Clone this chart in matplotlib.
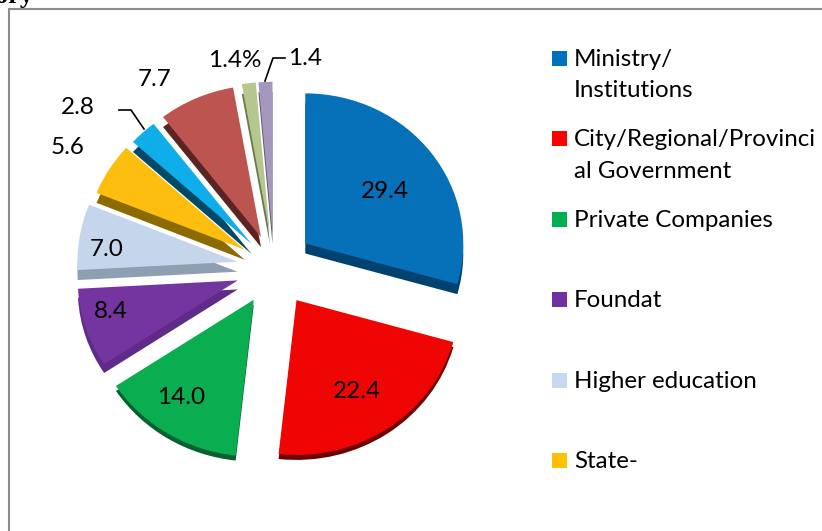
import matplotlib
matplotlib.use('Agg')
import matplotlib.pyplot as plt
from matplotlib.patches import Rectangle

# Pie values in drawing order, clockwise from the top
values = [29.4, 22.4, 14.0, 8.4, 7.0, 5.6, 2.8, 7.7, 1.4, 1.4]
value_labels = ['29.4', '22.4', '14.0', '8.4', '7.0', '5.6', '2.8', '7.7', '1.4%', '1.4']
legend_labels = ['Ministry/\nInstitutions', 'City/Regional/Provinci\nal Government',
                 'Private Companies', 'Foundat', 'Higher education', 'State-']

top_colors = ['#0670B8', '#F00505', '#0AAD50', '#7435A0', '#C5D6EC',
              '#FDBE10', '#0FAEEB', '#BC544F', '#B5C78F', '#A596BC']
side_colors = ['#00426F', '#6E0000', '#066030', '#5F2A88', '#8F9FB2',
               '#8B6A00', '#004A68', '#5A2422', '#6A7A50', '#5F5570']
legend_colors = ['#0070C0', '#FF0000', '#00B050', '#7030A0', '#C6D9F1', '#FFC000']

explode = [48, 42, 33, 35, 34, 32, 33, 32, 32, 35]
depth = [10, 5, 5, 9, 10, 10, 10, 10, 10, 10]
# per slice fine tuning, the original has a perspective the flat pie lacks
nudge = [(-1, 1), (5, -3), (3, 3), (3, 0), (3, -3), (4, -4), (6, -3), (6, -5), (6, -6), (6, -3)]
radii = [158, 163, 165, 160, 160, 160, 160, 160, 160, 160]
label_pos = [(385, 191), (357, 392), (181, 397), (111, 311), (107, 250),
             (68, 148), (78, 108), (155, 79), (235, 61), (305, 59)]

W, H = 822, 531
squash = 0.95


def py(y):
    # picture row to data y
    return (H - y) / squash


plt.rcParams['font.family'] = ['Lato', 'DejaVu Sans']
fig = plt.figure(figsize=(W / 100, H / 100), dpi=100)
ax = fig.add_axes([0, 0, 1, 1])

center = (268, py(270))
radius = 160

# extruded side first, then the top faces
sides, _ = ax.pie(values, colors=side_colors, explode=explode, center=center, radius=radius,
                  startangle=90, counterclock=False)
tops, _ = ax.pie(values, colors=top_colors, explode=explode, center=center, radius=radius,
                 startangle=90, counterclock=False)
for side, top, d, (dx, dy), r in zip(sides, tops, depth, nudge, radii):
    cx, cy = top.center
    top.set_center((cx + dx, cy - dy / squash))
    top.set_radius(r)
    side.set_center((cx + dx, cy - (dy + d) / squash))
    side.set_radius(r)

ax.set_aspect('auto')
ax.set_xlim(0, W)
ax.set_ylim(0, H / squash)
ax.axis('off')

# chart frame, runs off the right and bottom
ax.plot([9, 9], [py(H + 5), py(9)], color='#8C8C8C', lw=1.5)
ax.plot([9, W + 5], [py(9), py(9)], color='#8C8C8C', lw=1.5)

# clipped caption from the page above the chart
ax.text(33, py(3), 'ory', family='Liberation Serif', weight='bold', fontsize=19,
        ha='right', va='baseline', color='black')

for text, (x, y) in zip(value_labels, label_pos):
    ax.text(x, py(y), text, fontsize=17.5, ha='center', va='center', color='black')

# leader lines
ax.plot([119, 131, 144], [py(110), py(110), py(129)], color='black', lw=1.2)
ax.plot([285, 273, 265], [py(58), py(58), py(81)], color='black', lw=1.2)

# legend
for i, (text, col) in enumerate(zip(legend_labels, legend_colors)):
    y = 58 + i * 80.4
    ax.add_patch(Rectangle((552, py(y + 8)), 15, 15 / squash, color=col, lw=0))
    ax.text(574, py(y - 9), text, fontsize=17.4, ha='left', va='top', color='black',
            linespacing=1.6)

fig.savefig('out.png', dpi=100)
